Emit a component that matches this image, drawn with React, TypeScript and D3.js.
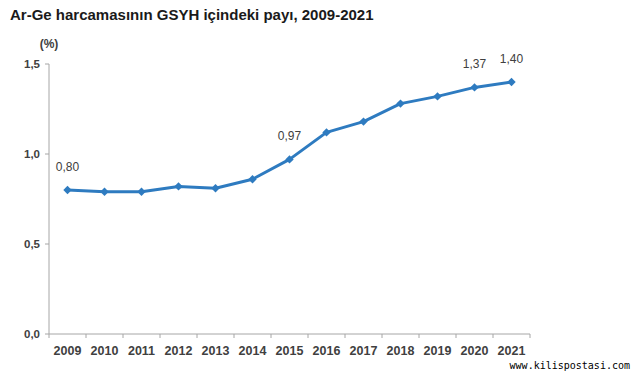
import React from "react";
import * as d3 from "d3";

const years = ["2009","2010","2011","2012","2013","2014","2015","2016","2017","2018","2019","2020","2021"];
const values = [0.80, 0.79, 0.79, 0.82, 0.81, 0.86, 0.97, 1.12, 1.18, 1.28, 1.32, 1.37, 1.40];
const labelledYears = ["2009", "2015", "2020", "2021"];
const yTicks = [0, 0.5, 1.0, 1.5];
const title = "Ar-Ge harcamasının GSYH içindeki payı, 2009-2021";

const W = 641, H = 380;
const left = 49, right = 530, top = 64, bottom = 334;

export default function App() {
  const x = d3.scaleBand<string>().domain(years).range([left, right]);
  const y = d3.scaleLinear().domain([0, 1.5]).range([bottom, top]);
  const cx = (yr: string) => (x(yr) as number) + x.bandwidth() / 2;
  const line = d3.line<number>().x((_, i) => cx(years[i])).y((v) => y(v));
  const fmt = (v: number, d: number) => v.toFixed(d).replace(".", ",");
  const axisColor = "#a6a6a6";
  const textColor = "#404040";
  const font = "Liberation Sans, Arial, sans-serif";
  const m = 4.2;
  const diamond = `M0,${-m}L${m},0L0,${m}L${-m},0Z`;

  return (
    <svg width={W} height={H} style={{ position: "absolute", left: 0, top: 0, background: "#fff" }} fontFamily={font}>
      <rect width={W} height={H} fill="#fff" />
      <text x={10} y={19.5} fontSize={15} fontWeight="bold" fill="#1a1a1a">{title}</text>
      <text x={49} y={48} fontSize={12} fontWeight="bold" fill={textColor} textAnchor="middle">(%)</text>
      {/* y axis */}
      <line x1={left} x2={left} y1={top} y2={bottom} stroke={axisColor} strokeWidth={1} />
      {yTicks.map((t) => (
        <g key={t}>
          <line x1={left - 4} x2={left} y1={y(t)} y2={y(t)} stroke={axisColor} />
          <text x={left - 9} y={y(t) + 4} fontSize={11.5} fontWeight="bold" fill={textColor} textAnchor="end">{fmt(t, 1)}</text>
        </g>
      ))}
      {/* x axis */}
      <line x1={left} x2={right} y1={bottom} y2={bottom} stroke={axisColor} strokeWidth={1} />
      {years.map((yr) => (
        <line key={"t" + yr} x1={x(yr) as number} x2={x(yr) as number} y1={bottom} y2={bottom + 4} stroke={axisColor} />
      ))}
      <line x1={right} x2={right} y1={bottom} y2={bottom + 4} stroke={axisColor} />
      {years.map((yr) => (
        <text key={"l" + yr} x={cx(yr)} y={354.5} fontSize={12.5} fontWeight="bold" fill={textColor} textAnchor="middle">{yr}</text>
      ))}
      <path d={line(values) || ""} fill="none" stroke="#2e7bc0" strokeWidth={3} strokeLinejoin="round" />
      {values.map((v, i) => (
        <path key={"m" + i} d={diamond} transform={`translate(${cx(years[i])},${y(v)})`} fill="#2e7bc0" />
      ))}
      {values.map((v, i) =>
        labelledYears.includes(years[i]) ? (
          <text key={"v" + i} x={cx(years[i])} y={y(v) - 19} fontSize={12} fill={textColor} textAnchor="middle">{fmt(v, 2)}</text>
        ) : null
      )}
      <text x={630} y={369} fontSize={10} fill="#000" textAnchor="end" fontFamily="DejaVu Sans Mono, monospace">www.kilispostasi.com</text>
    </svg>
  );
}
